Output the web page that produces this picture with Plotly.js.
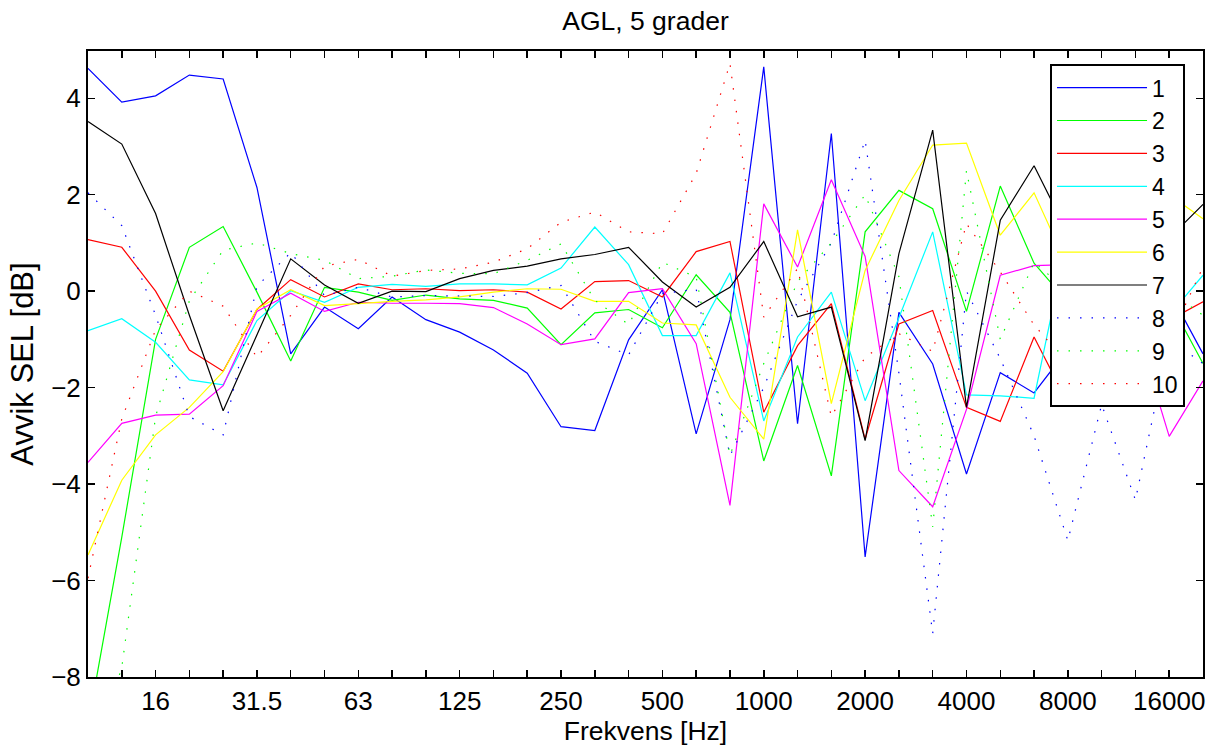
<!DOCTYPE html>
<html>
<head>
<meta charset="utf-8">
<script src="https://cdn.plot.ly/plotly-3.0.1.min.js"></script>
<style>html,body{margin:0;padding:0;background:#fff;}#chart{width:1221px;height:751px;}</style>
</head>
<body>
<div id="chart"></div>
<script>
// Third-octave band centre frequencies (Hz)
const freqs = ["10","12.5","16","20","25","31.5","40","50","63","80","100","125","160","200","250","315","400","500","630","800","1000","1250","1600","2000","2500","3150","4000","5000","6300","8000","10000","12500","16000","20000"];
const labeledFreqs = ["16","31.5","63","125","250","500","1000","2000","4000","8000","16000"];
const seriesNames = ["1","2","3","4","5","6","7","8","9","10"];
const seriesColors = ["#0000ff","#00ff00","#ff0000","#00ffff","#ff00ff","#ffff00","#000000","#0000ff","#00ff00","#ff0000"];
const seriesDash = ["solid","solid","solid","solid","solid","solid","solid","dot","dot","dot"];

// Deviation of SEL [dB] per band
const s1  = [4.62,3.92,4.05,4.48,4.40,2.15,-1.30,-0.33,-0.78,-0.12,-0.59,-0.85,-1.22,-1.70,-2.81,-2.89,-1.01,0.03,-2.96,-0.59,4.65,-2.75,3.27,-5.51,-0.44,-1.51,-3.79,-1.69,-2.11,-1.20,-0.80,-0.40,0.00,-1.30];
const s2  = [-9.00,-5.10,-1.00,0.91,1.34,-0.02,-1.45,0.08,-0.02,-0.19,-0.08,-0.16,-0.19,-0.35,-1.11,-0.45,-0.38,-0.76,0.34,-0.44,-3.52,-1.54,-3.83,1.23,2.09,1.71,-0.42,2.18,0.58,-0.23,0.30,0.10,-0.20,-1.50];
const s3  = [1.07,0.91,0.00,-1.22,-1.66,-0.38,0.24,-0.12,0.15,0.03,0.05,0.01,0.03,-0.02,-0.37,0.20,0.22,-0.12,0.82,1.03,-2.51,-1.13,-0.26,-3.07,-0.68,-0.40,-2.41,-2.70,-0.95,-2.32,-1.50,-1.00,-0.60,-0.22];
const s4  = [-0.82,-0.57,-1.06,-1.84,-1.94,-0.61,0.01,-0.23,0.08,0.14,0.10,0.15,0.15,0.13,0.48,1.33,0.55,-0.92,-0.92,0.38,-2.69,-0.95,-0.02,-2.27,-0.55,1.23,-2.15,-2.17,-2.22,1.15,0.50,0.00,-0.50,0.33];
const s5  = [-3.55,-2.74,-2.57,-2.55,-1.96,-0.42,-0.04,-0.42,-0.23,-0.25,-0.25,-0.26,-0.34,-0.68,-1.11,-0.99,-0.03,0.05,-1.09,-4.44,1.81,0.50,2.31,0.72,-3.72,-4.47,-2.45,0.33,0.53,0.55,0.00,-0.70,-3.01,-1.86];
const s6  = [-5.47,-3.92,-2.98,-2.41,-1.67,-0.37,0.03,-0.30,-0.26,-0.21,-0.18,-0.12,-0.02,0.05,0.04,-0.21,-0.21,-0.66,-0.70,-2.20,-3.07,1.27,-2.33,0.43,1.88,3.03,3.07,1.16,2.04,0.50,1.00,1.80,2.00,1.50];
const s7  = [3.52,3.05,1.61,-0.50,-2.48,-0.90,0.67,0.13,-0.25,0.00,-0.01,0.26,0.43,0.52,0.67,0.76,0.91,0.19,-0.33,0.08,1.03,-0.53,-0.33,-3.10,0.78,3.34,-2.41,1.47,2.60,1.20,1.60,1.30,1.10,1.80];
const s8  = [2.04,1.36,-0.50,-2.60,-2.98,0.10,0.80,-0.09,0.08,-0.12,-0.09,-0.10,-0.11,-0.03,0.12,-1.04,-1.32,-0.05,0.04,-3.41,-2.00,-0.20,1.00,3.13,-1.70,-7.10,0.00,-1.40,-3.00,-5.17,-2.35,-4.33,-1.00,-1.50];
const s9  = [-10.0,-7.80,-2.60,-0.20,0.85,1.00,0.78,0.64,0.26,0.31,0.44,0.37,0.36,0.64,0.98,-0.19,-0.69,0.60,0.29,-3.40,-1.50,0.20,1.00,2.00,0.30,-4.89,2.50,-1.00,0.60,0.00,-1.00,-0.50,0.00,-0.50];
const s10 = [-5.95,-2.65,-0.80,0.00,-0.31,-1.37,-0.50,0.52,0.66,0.31,0.43,0.46,0.60,0.88,1.43,1.64,1.23,1.19,2.44,4.72,-0.54,0.47,-2.60,-1.37,-0.88,-1.25,1.40,0.40,-0.70,-1.50,-0.50,0.00,-1.00,0.50];

const allSeries = [s1,s2,s3,s4,s5,s6,s7,s8,s9,s10];

const FONT = "Liberation Sans, Arial, Helvetica, sans-serif";

const traces = allSeries.map((ys, k) => ({
  type: "scatter",
  mode: "lines",
  x: freqs,
  y: ys,
  name: seriesNames[k],
  line: {
    color: seriesColors[k],
    width: 1.2,
    dash: seriesDash[k] === "dot" ? "1.5px,10px" : "solid"
  },
  hoverinfo: "x+y+name"
}));

const tickText = freqs.map(f => labeledFreqs.includes(f) ? f : "");

const layout = {
  width: 1221,
  height: 751,
  paper_bgcolor: "#ffffff",
  plot_bgcolor: "#ffffff",
  margin: {l: 88, r: 18, t: 51, b: 74, pad: 0},
  font: {family: FONT, size: 26, color: "#000"},
  title: {
    text: "AGL, 5 grader",
    font: {family: FONT, size: 26.5, color: "#000"},
    x: 0.5, xref: "paper", xanchor: "center",
    y: 0.973, yref: "container", yanchor: "middle"
  },
  xaxis: {
    type: "category",
    range: [0, freqs.length - 1],
    tickmode: "array",
    tickvals: freqs,
    ticktext: tickText,
    ticks: "inside",
    ticklen: 7,
    tickwidth: 1.5,
    tickcolor: "#000",
    showline: true,
    linecolor: "#000",
    linewidth: 2,
    mirror: "ticks",
    showgrid: false,
    zeroline: false,
    tickfont: {family: FONT, size: 26, color: "#000"},
    title: {text: "Frekvens [Hz]", font: {family: FONT, size: 26.5, color: "#000"}, standoff: 2}
  },
  yaxis: {
    range: [-8, 4.98],
    tickmode: "array",
    tickvals: [-8,-6,-4,-2,0,2,4],
    ticks: "inside",
    ticklen: 7,
    tickwidth: 1.5,
    tickcolor: "#000",
    showline: true,
    linecolor: "#000",
    linewidth: 2,
    mirror: "ticks",
    showgrid: false,
    zeroline: false,
    tickfont: {family: FONT, size: 26, color: "#000"},
    title: {text: "Avvik SEL [dB]", font: {family: FONT, size: 31, color: "#000"}, standoff: 8}
  },
  showlegend: true,
  legend: {
    x: 0.8628, y: 0.979, xanchor: "left", yanchor: "top",
    xref: "paper", yref: "paper",
    bgcolor: "#ffffff",
    bordercolor: "#000",
    borderwidth: 2,
    font: {family: FONT, size: 23, color: "#000"},
    itemwidth: 90,
    tracegroupgap: 0
  }
};

Plotly.newPlot("chart", traces, layout, {displayModeBar: false, staticPlot: true});
</script>
</body>
</html>
